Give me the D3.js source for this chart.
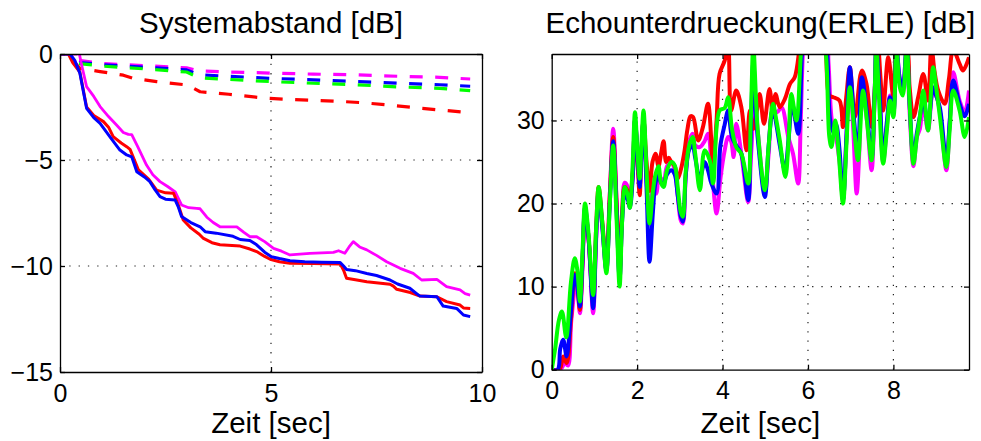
<!DOCTYPE html>
<html>
<head>
<meta charset="utf-8">
<style>
    body { margin: 0; background: #fff; }
    svg { display: block; font-family: 'Liberation Sans', Arial, sans-serif; }
    .axis text { font-size: 25px; fill: #000; }
    .axis path, .axis line { stroke: #000; stroke-width: 1.3; }
    .grid line { stroke: #222; stroke-width: 1.2; stroke-dasharray: 1.3, 8; }
    .title, .xlabel { font-size: 29.5px; fill: #000; text-anchor: middle; }
</style>
</head>
<body>
<svg width="981" height="441"></svg>
<script src="https://d3js.org/d3.v7.min.js"></script>
<script>
// --- Systemabstand [dB] (left) ---
const sysRed = [[0,0],[0.2,0],[0.3,-0.4],[0.47,-0.85],[0.63,-2.5],[0.8,-2.9],[1.03,-3.19],[1.15,-3.45],[1.26,-3.9],[1.45,-4.2],[1.58,-4.37],[1.66,-4.5],[1.86,-5.47],[2.1,-5.9],[2.29,-6.42],[2.5,-6.55],[2.69,-6.57],[2.8,-7.1],[2.92,-7.83],[3.1,-8.2],[3.3,-8.5],[3.4,-8.7],[3.6,-8.9],[3.79,-9.0],[4.27,-9.06],[4.5,-9.2],[4.66,-9.32],[4.85,-9.55],[4.98,-9.68],[5.2,-9.8],[5.45,-9.87],[6.0,-9.88],[6.64,-9.9],[6.72,-10.2],[6.79,-10.58],[7.0,-10.65],[7.27,-10.74],[7.82,-10.86],[7.9,-10.95],[7.98,-11.1],[8.3,-11.25],[8.53,-11.42],[8.93,-11.45],[9.16,-11.68],[9.48,-11.84],[9.56,-11.98],[9.72,-12.0]];
const sysBlue = [[0,0],[0.24,0],[0.35,-0.3],[0.47,-0.9],[0.63,-2.56],[0.8,-3.0],[0.95,-3.27],[1.18,-3.9],[1.42,-4.53],[1.58,-4.76],[1.7,-4.85],[1.82,-5.55],[2.0,-5.8],[2.13,-6.02],[2.25,-6.4],[2.37,-6.73],[2.5,-6.85],[2.73,-6.89],[2.8,-7.2],[2.88,-7.67],[3.1,-7.95],[3.32,-8.15],[3.44,-8.38],[3.7,-8.45],[4.1,-8.6],[4.27,-8.75],[4.5,-8.8],[4.66,-9.0],[4.85,-9.35],[5.01,-9.56],[5.2,-9.65],[5.45,-9.75],[5.8,-9.8],[6.2,-9.82],[6.64,-9.84],[6.72,-10.0],[6.79,-10.16],[7.0,-10.22],[7.27,-10.35],[7.5,-10.45],[7.82,-10.66],[8.0,-10.85],[8.29,-11.05],[8.45,-11.3],[8.53,-11.42],[8.93,-11.45],[9.08,-11.89],[9.4,-12.0],[9.56,-12.31],[9.72,-12.39]];
const sysMagenta = [[0,0],[0.4,0],[0.45,0.1],[0.5,-0.4],[0.63,-1.54],[0.8,-2.0],[0.95,-2.48],[1.15,-2.95],[1.34,-3.35],[1.5,-3.7],[1.62,-3.79],[1.7,-3.8],[1.85,-4.4],[2.05,-5.24],[2.2,-5.7],[2.37,-6.02],[2.55,-6.25],[2.73,-6.5],[2.88,-7.12],[3.05,-7.25],[3.24,-7.28],[3.32,-7.3],[3.48,-7.7],[3.63,-7.95],[3.79,-8.15],[4.19,-8.15],[4.35,-8.4],[4.5,-8.62],[4.66,-8.62],[4.85,-8.85],[5.06,-9.17],[5.25,-9.3],[5.45,-9.48],[5.92,-9.4],[6.48,-9.36],[6.6,-9.28],[6.75,-9.4],[6.85,-9.1],[6.95,-8.85],[7.1,-9.1],[7.27,-9.24],[7.5,-9.5],[7.74,-9.8],[8.06,-10.11],[8.37,-10.35],[8.57,-10.66],[8.93,-10.63],[9.16,-10.97],[9.48,-11.13],[9.6,-11.3],[9.72,-11.37]];
const sysMagentaDash = [[0.45,-0.3],[1.0,-0.45],[2.0,-0.55],[3.0,-0.65],[3.3,-0.8],[4.0,-0.85],[5.0,-0.9],[6.0,-0.95],[7.0,-0.98],[8.0,-1.05],[9.0,-1.1],[9.72,-1.18]];
const sysBlueDash = [[0.45,-0.4],[1.0,-0.5],[2.0,-0.62],[3.0,-0.75],[3.3,-0.98],[4.0,-1.05],[5.0,-1.15],[6.0,-1.22],[7.0,-1.3],[8.0,-1.38],[9.0,-1.45],[9.72,-1.52]];
const sysGreenDash = [[0.45,-0.45],[1.0,-0.57],[2.0,-0.7],[3.0,-0.85],[3.3,-1.12],[4.0,-1.2],[5.0,-1.3],[6.0,-1.38],[7.0,-1.45],[8.0,-1.55],[9.0,-1.62],[9.72,-1.73]];
const sysRedDash = [[0.3,-0.3],[0.47,-0.68],[0.95,-0.83],[1.5,-1.0],[1.74,-1.15],[2.29,-1.3],[3.0,-1.46],[3.15,-1.6],[3.32,-1.78],[4.0,-1.9],[4.9,-2.09],[5.5,-2.15],[6.48,-2.22],[7.2,-2.3],[7.74,-2.4],[8.5,-2.55],[9.72,-2.77]];
const sysXTicks = [0, 5, 10];
const sysYTicks = [0, -5, -10, -15];

// --- Echounterdrueckung(ERLE) [dB] (right) ---
const erleRed = [[0,0],[0.18,0],[0.27,1.6],[0.35,0.8],[0.45,6],[0.54,11.6],[0.6,10],[0.66,7.2],[0.72,13],[0.78,19],[0.86,16],[0.97,8],[1.04,17],[1.1,22],[1.18,18],[1.28,13],[1.36,21],[1.44,28],[1.52,20],[1.59,12],[1.65,19],[1.71,22],[1.78,21.5],[1.83,20.5],[1.9,24],[1.95,30],[2.02,24],[2.06,21],[2.1,26],[2.15,30],[2.22,25],[2.29,21.5],[2.36,25],[2.43,26],[2.5,24.5],[2.56,26],[2.62,27.5],[2.68,25],[2.74,25.5],[2.8,25],[2.88,24.5],[2.95,23],[3.02,24],[3.1,26],[3.18,29],[3.25,30.5],[3.31,30.4],[3.43,27.6],[3.54,29.2],[3.66,32],[3.78,24.8],[3.86,30],[3.93,35.6],[4.05,37.2],[4.13,39],[4.2,31.2],[4.32,33.6],[4.44,31.6],[4.56,26.4],[4.64,31.2],[4.72,29],[4.8,31],[4.87,33.2],[4.97,29.6],[5.1,33.8],[5.18,30.4],[5.24,33.2],[5.34,31.6],[5.46,32.6],[5.58,34.4],[5.69,35.2],[5.81,39],[5.9,42],[6.3,42],[6.42,38],[6.5,33],[6.59,32.8],[6.74,32.4],[6.82,29.2],[6.9,33],[6.98,36.4],[7.1,30.4],[7.26,36],[7.37,34.4],[7.49,29.2],[7.58,35],[7.64,39],[7.7,35],[7.76,31.2],[7.88,37.6],[8.0,32.8],[8.07,39],[8.15,40],[8.31,39],[8.38,34],[8.47,30.4],[8.58,32.8],[8.7,35.6],[8.81,32.4],[8.89,39],[8.96,36],[9.05,33.6],[9.2,32],[9.3,35],[9.4,38.5],[9.55,36.8],[9.63,36],[9.77,37.6]];
const erleMagenta = [[0,0],[0.2,0],[0.31,0.8],[0.38,0.5],[0.46,6],[0.58,10.8],[0.66,6.8],[0.72,12],[0.78,19],[0.86,16],[0.97,6.8],[1.04,15.5],[1.1,21],[1.18,17.5],[1.28,12],[1.36,21],[1.44,29],[1.52,20],[1.59,11],[1.65,18.5],[1.71,22.5],[1.78,22],[1.83,20],[1.9,23.5],[1.95,30],[2.02,25],[2.06,22],[2.1,26],[2.15,30],[2.22,23],[2.29,18],[2.37,21.5],[2.45,21.2],[2.5,23.5],[2.56,23],[2.62,22.5],[2.7,24.5],[2.8,25],[2.88,24],[2.95,21],[3.02,18],[3.07,17.6],[3.14,23.5],[3.22,27.5],[3.3,28.4],[3.36,27],[3.47,26.8],[3.58,27.5],[3.66,28.4],[3.75,24],[3.86,18.8],[3.95,23],[4.05,26.4],[4.13,28],[4.2,27.5],[4.26,25.6],[4.32,29.6],[4.44,26],[4.6,20.2],[4.67,26],[4.75,32.4],[4.83,28.4],[4.99,21.2],[5.08,26],[5.18,31.2],[5.28,31],[5.38,31.6],[5.54,28],[5.65,26],[5.77,22.4],[5.83,30],[5.89,39],[5.95,42],[6.4,42],[6.48,37],[6.56,30],[6.64,28.5],[6.74,25],[6.82,20.5],[6.9,28],[6.98,35.5],[7.06,29],[7.14,21.2],[7.2,26],[7.26,34.5],[7.38,30],[7.49,24],[7.56,33],[7.6,39],[7.68,33],[7.76,25],[7.85,29.5],[7.92,33],[8.0,31],[8.07,39],[8.15,35],[8.22,34],[8.31,39],[8.38,31],[8.47,24.5],[8.55,28],[8.62,29],[8.7,32],[8.81,28.8],[8.93,33.5],[9.0,33],[9.09,31],[9.24,24],[9.32,30],[9.4,35.8],[9.55,32.4],[9.67,31],[9.77,33.6]];
const erleBlue = [[0,0],[0.14,0],[0.2,2.5],[0.27,3.6],[0.35,1.6],[0.45,7],[0.54,11.4],[0.6,10],[0.66,7.6],[0.72,13],[0.78,19.5],[0.86,16],[0.97,7.4],[1.04,16],[1.1,21.5],[1.18,17.5],[1.28,12],[1.36,20],[1.44,27.5],[1.52,19],[1.59,11],[1.65,18],[1.71,21],[1.78,20.5],[1.83,19.5],[1.9,23.5],[1.95,30],[2.02,25],[2.06,22],[2.1,26],[2.15,30],[2.22,22],[2.29,13],[2.37,19],[2.43,22.5],[2.5,23.5],[2.56,22.5],[2.62,22.5],[2.7,23.5],[2.8,24],[2.88,23.5],[2.95,21],[3.02,18.5],[3.07,17.8],[3.14,23.5],[3.22,26.5],[3.3,27],[3.36,25.5],[3.47,23],[3.58,25],[3.66,24],[3.74,22.4],[3.86,21.2],[3.95,27],[4.05,29.5],[4.13,31.2],[4.22,28],[4.32,27],[4.44,26],[4.6,20.4],[4.66,28],[4.72,37],[4.78,31],[4.83,27.5],[4.99,20.8],[5.08,27],[5.18,31.5],[5.26,29.5],[5.34,27],[5.46,24],[5.55,28],[5.63,32],[5.77,28.4],[5.87,39],[5.95,42],[6.35,42],[6.45,38],[6.52,30],[6.6,28.5],[6.66,29.5],[6.74,26.4],[6.82,20.4],[6.9,28],[6.98,36.4],[7.08,30],[7.17,26],[7.26,35.2],[7.38,31],[7.49,25.5],[7.56,33],[7.6,39],[7.68,33],[7.76,25.5],[7.85,30],[7.92,32.8],[8.0,31],[8.07,39],[8.15,35],[8.22,34],[8.31,39],[8.38,32],[8.47,25.5],[8.55,28.5],[8.62,30.5],[8.7,32.5],[8.81,29.5],[8.93,34],[9.0,33],[9.09,31.5],[9.24,25],[9.32,30],[9.4,34.8],[9.55,32],[9.67,30.5],[9.77,32]];
const erleGreen = [[0,0],[0.08,2.5],[0.17,6],[0.24,7],[0.34,3.9],[0.45,10.5],[0.54,13.4],[0.6,12],[0.66,8.2],[0.72,14],[0.78,20],[0.86,16.5],[0.97,9],[1.04,17],[1.1,22],[1.18,18],[1.28,11.6],[1.36,20],[1.44,27],[1.52,18],[1.59,10],[1.65,18],[1.71,22],[1.78,21],[1.83,19.5],[1.89,24],[1.95,31],[2.01,26],[2.06,23],[2.1,27],[2.15,31.2],[2.22,24],[2.29,17.6],[2.37,21.5],[2.43,23.5],[2.5,24.5],[2.56,22.5],[2.62,22],[2.7,24],[2.8,25],[2.88,24.6],[2.95,22],[3.02,19],[3.07,18.4],[3.14,24],[3.22,27],[3.3,28],[3.36,26],[3.47,21.6],[3.58,26.4],[3.7,25.2],[3.78,22.4],[3.93,31.2],[4.05,31.5],[4.13,32.8],[4.22,29],[4.32,26.8],[4.44,26],[4.6,22.4],[4.66,30],[4.72,39],[4.78,33],[4.83,28.4],[4.99,21.6],[5.08,27],[5.18,32],[5.26,30],[5.34,27.6],[5.47,23.2],[5.55,28],[5.61,33.2],[5.73,30],[5.85,39],[5.95,42],[6.3,42],[6.42,38],[6.5,28],[6.55,26.8],[6.64,30],[6.72,26],[6.82,20],[6.9,27],[6.98,34],[7.1,28],[7.17,25.2],[7.29,33.6],[7.38,30],[7.49,25.2],[7.56,33],[7.6,39],[7.66,33],[7.76,24.8],[7.85,29],[7.92,32.4],[8.0,30.4],[8.07,39],[8.15,34],[8.22,33],[8.31,39],[8.38,32],[8.47,24.8],[8.55,28],[8.62,30.4],[8.7,33.6],[8.81,28.8],[8.93,36.4],[9.0,34],[9.09,30.4],[9.24,24.4],[9.32,29],[9.4,33.6],[9.55,31.2],[9.67,28],[9.77,30.4]];
const erleXTicks = [0, 2, 4, 6, 8];
const erleYTicks = [0, 10, 20, 30];

const svg = d3.select("svg");
const fmt = d3.format("");

function drawPanel(opt) {
    const x = d3.scaleLinear().domain(opt.xDomain).range([opt.left, opt.right]);
    const y = d3.scaleLinear().domain(opt.yDomain).range([opt.bottom, opt.top]);
    const g = svg.append("g");

    // dotted grid
    const grid = g.append("g").attr("class", "grid");
    grid.selectAll(".gx").data(opt.xTicks.filter(d => d > opt.xDomain[0] && d < opt.xDomain[1]))
        .join("line").attr("x1", d => x(d)).attr("x2", d => x(d)).attr("y1", opt.bottom).attr("y2", opt.top);
    grid.selectAll(".gy").data(opt.yTicks.filter(d => d > opt.yDomain[0] && d < opt.yDomain[1]))
        .join("line").attr("class", "gy").attr("y1", d => y(d)).attr("y2", d => y(d)).attr("x1", opt.left).attr("x2", opt.right);

    const clipId = "clip" + opt.left;
    g.append("clipPath").attr("id", clipId).append("rect")
        .attr("x", opt.left).attr("y", opt.top).attr("width", opt.right - opt.left).attr("height", opt.bottom - opt.top);

    const line = d3.line().x(d => x(d[0])).y(d => y(d[1])).curve(opt.curve);
    const lines = g.append("g").attr("clip-path", `url(#${clipId})`);
    opt.series.forEach(s => {
        lines.append("path")
            .attr("d", line(s.data))
            .attr("fill", "none")
            .attr("stroke", s.color)
            .attr("stroke-width", s.width)
            .attr("stroke-linejoin", "round")
            .attr("stroke-dasharray", s.dash || null);
    });

    // axes, ticks pointing inward on all four sides
    g.append("g").attr("class", "axis").attr("transform", `translate(0,${opt.bottom})`)
        .call(d3.axisBottom(x).tickValues(opt.xTicks).tickFormat(fmt).tickSizeInner(-5).tickSizeOuter(0).tickPadding(12));
    g.append("g").attr("class", "axis").attr("transform", `translate(0,${opt.top})`)
        .call(d3.axisTop(x).tickValues(opt.xTicks).tickFormat("").tickSizeInner(-5).tickSizeOuter(0));
    g.append("g").attr("class", "axis").attr("transform", `translate(${opt.left},0)`)
        .call(d3.axisLeft(y).tickValues(opt.yTicks).tickFormat(d3.format("")).tickSizeInner(-5).tickSizeOuter(0).tickPadding(7));
    g.append("g").attr("class", "axis").attr("transform", `translate(${opt.right},0)`)
        .call(d3.axisRight(y).tickValues(opt.yTicks).tickFormat("").tickSizeInner(-5).tickSizeOuter(0));

    const cx = (opt.left + opt.right) / 2;
    g.append("text").attr("class", "title").attr("x", cx).attr("y", 33).text(opt.title);
    g.append("text").attr("class", "xlabel").attr("x", cx).attr("y", 433).text("Zeit [sec]");
}

drawPanel({
    left: 60, right: 482, top: 54, bottom: 372,
    xDomain: [0, 10], yDomain: [-15, 0],
    xTicks: sysXTicks, yTicks: sysYTicks,
    curve: d3.curveLinear,
    title: "Systemabstand [dB]",
    series: [
        { data: sysMagentaDash, color: "#ff00ff", width: 3.2, dash: "13,12.5" },
        { data: sysBlueDash, color: "#0000ff", width: 3.2, dash: "13,12.5" },
        { data: sysGreenDash, color: "#00ff00", width: 3.2, dash: "13,12.5" },
        { data: sysRedDash, color: "#ff0000", width: 3.2, dash: "13,12.5" },
        { data: sysMagenta, color: "#ff00ff", width: 2.8 },
        { data: sysRed, color: "#ff0000", width: 3 },
        { data: sysBlue, color: "#0000ff", width: 3 }
    ]
});

drawPanel({
    left: 551.7, right: 969, top: 54, bottom: 369.7,
    xDomain: [0, 9.77], yDomain: [0, 38],
    xTicks: erleXTicks, yTicks: erleYTicks,
    curve: d3.curveCatmullRom,
    title: "Echounterdrueckung(ERLE) [dB]",
    series: [
        { data: erleMagenta, color: "#ff00ff", width: 4 },
        { data: erleRed, color: "#ff0000", width: 4 },
        { data: erleBlue, color: "#0000ff", width: 4 },
        { data: erleGreen, color: "#00ff00", width: 4 }
    ]
});
</script>
</body>
</html>
